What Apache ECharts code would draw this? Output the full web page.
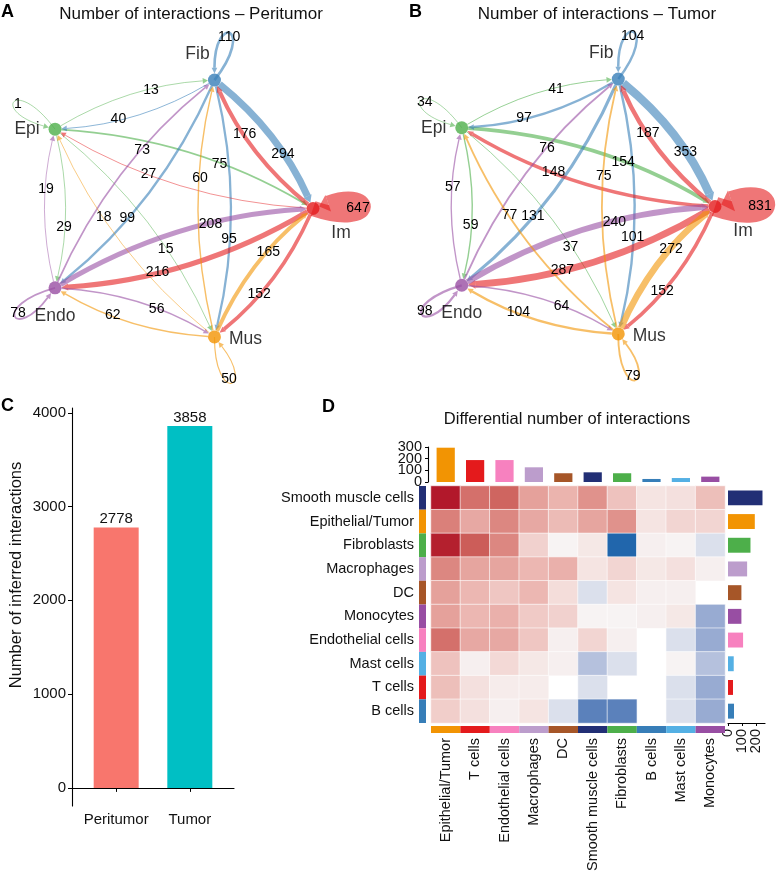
<!DOCTYPE html>
<html><head><meta charset="utf-8">
<script src="https://cdn.jsdelivr.net/npm/echarts@6/dist/echarts.min.js"></script>
<style>html,body{margin:0;padding:0;background:#fff}#c{width:778px;height:878px}</style>
</head><body><div id="c"></div>
<script>
// ================= DATA =================
// Panels A/B: nodes placed around a circle in this order
const netNodes = ['Im', 'Fib', 'Epi', 'Endo', 'Mus'];
// edges: [source, target, number of interactions]
const edgesPeritumor = [
  ['Epi','Epi',1],['Epi','Fib',13],['Epi','Im',75],['Epi','Endo',29],['Epi','Mus',15],
  ['Fib','Epi',40],['Fib','Fib',110],['Fib','Im',294],['Fib','Endo',99],['Fib','Mus',95],
  ['Im','Epi',27],['Im','Fib',176],['Im','Im',647],['Im','Endo',216],['Im','Mus',152],
  ['Endo','Epi',19],['Endo','Fib',73],['Endo','Im',208],['Endo','Endo',78],['Endo','Mus',56],
  ['Mus','Epi',18],['Mus','Fib',60],['Mus','Im',165],['Mus','Endo',62],['Mus','Mus',50]
];
const edgesTumor = [
  ['Epi','Epi',34],['Epi','Fib',41],['Epi','Im',154],['Epi','Endo',59],['Epi','Mus',37],
  ['Fib','Epi',97],['Fib','Fib',104],['Fib','Im',353],['Fib','Endo',131],['Fib','Mus',101],
  ['Im','Epi',148],['Im','Fib',187],['Im','Im',831],['Im','Endo',287],['Im','Mus',152],
  ['Endo','Epi',57],['Endo','Fib',76],['Endo','Im',240],['Endo','Endo',98],['Endo','Mus',64],
  ['Mus','Epi',77],['Mus','Fib',75],['Mus','Im',272],['Mus','Endo',104],['Mus','Mus',79]
];
// Panel C
const conditions = ['Peritumor', 'Tumor'];
const totalInteractions = [2778, 3858];
const yTicksC = [0, 1000, 2000, 3000, 4000];
// Panel D
const heatCols = ['Epithelial/Tumor','T cells','Endothelial cells','Macrophages','DC',
  'Smooth muscle cells','Fibroblasts','B cells','Mast cells','Monocytes'];
const heatRows = ['Smooth muscle cells','Epithelial/Tumor','Fibroblasts','Macrophages','DC',
  'Monocytes','Endothelial cells','Mast cells','T cells','B cells'];
const diffSMC   = [55, 36, 39, 23, 18, 27, 14, 5, 6, 15];
const diffEpi   = [32, 21, 30, 21, 16, 22, 27, 5, 9, 9];
const diffFib   = [54, 41, 30, 10, 1, 4, -20, 2, 1, -3];
const diffMacro = [30, 22, 22, 17, 19, 5, 9, 4, 6, 2];
const diffDC    = [23, 17, 13, 17, 7, -3, 5, 2, 2, 0];
const diffMono  = [23, 17, 19, 12, 10, 1, 1, 2, 4, -10];
const diffEndo  = [36, 21, 21, 13, 2, 9, 2, 0, -3, -10];
const diffMast  = [14, 2, 8, 4, 2, -7, -3, 0, 1, -7];
const diffT     = [15, 6, 3, 3, 0, -3, 0, 0, -3, -10];
const diffB     = [11, 6, 2, 5, -3, -16, -16, 0, -3, -10];
const colBars = [294, 188, 188, 126, 75, 83, 75, 26, 34, 46];
const rowBars = [247, 192, 161, 137, 96, 96, 108, 41, 36, 43];
const topTicks = [0, 100, 200, 300];
const rightTicks = [0, 100, 200];

// ================= STYLE =================
const FONT = '"Liberation Sans", Arial, Helvetica, sans-serif';
const nodeColor = {Im:'#E41A1C', Fib:'#377EB8', Epi:'#4DAF4A', Endo:'#984EA3', Mus:'#F29403'};
const nodeLabelOffset = {Im:[28,25], Fib:[-17,-26], Epi:[-28,0], Endo:[0,28], Mus:[31,2]};
const barColorsC = ['#F8766D', '#00BFC4'];
const typeColor = {'Epithelial/Tumor':'#F29403','T cells':'#E41A1C','Endothelial cells':'#F781BF',
  'Macrophages':'#BC9DCC','DC':'#A65628','Smooth muscle cells':'#222F75','Fibroblasts':'#4DAF4A',
  'B cells':'#377EB8','Mast cells':'#54B0E4','Monocytes':'#984EA3'};

function hexA(h, a) {
  const r = parseInt(h.slice(1,3),16), g = parseInt(h.slice(3,5),16), b = parseInt(h.slice(5,7),16);
  return 'rgba(' + r + ',' + g + ',' + b + ',' + a + ')';
}
// LAB interpolation for diverging palette (like colorRamp2)
function s2l(c){c/=255;return c<=0.04045?c/12.92:Math.pow((c+0.055)/1.055,2.4);}
function l2s(c){c=c<=0.0031308?12.92*c:1.055*Math.pow(c,1/2.4)-0.055;return Math.round(Math.max(0,Math.min(1,c))*255);}
function toLab(h){
  const r=s2l(parseInt(h.slice(1,3),16)), g=s2l(parseInt(h.slice(3,5),16)), b=s2l(parseInt(h.slice(5,7),16));
  const x=(r*0.4124+g*0.3576+b*0.1805)/0.95047, y=r*0.2126+g*0.7152+b*0.0722, z=(r*0.0193+g*0.1192+b*0.9505)/1.08883;
  const f=t=>t>0.008856?Math.cbrt(t):7.787*t+16/116;
  return [116*f(y)-16, 500*(f(x)-f(y)), 200*(f(y)-f(z))];
}
function fromLab(L,a,bb){
  const fy=(L+16)/116, fx=fy+a/500, fz=fy-bb/200;
  const fi=t=>t*t*t>0.008856?t*t*t:(t-16/116)/7.787;
  const x=fi(fx)*0.95047, y=fi(fy), z=fi(fz)*1.08883;
  const r=3.2406*x-1.5372*y-0.4986*z, g=-0.9689*x+1.8758*y+0.0415*z, b=0.0557*x-0.2040*y+1.0570*z;
  return 'rgb('+l2s(r)+','+l2s(g)+','+l2s(b)+')';
}
const heatMin = -20, heatMax = 55;
const labLo = toLab('#2166AC'), labMid = toLab('#F7F7F7'), labHi = toLab('#B2182B');
const heatRamp = [];
for (let v = heatMin; v <= heatMax; v++) {
  const A = v < 0 ? labLo : labHi;
  const f = v < 0 ? v / heatMin : v / heatMax;
  heatRamp.push(fromLab(labMid[0]+(A[0]-labMid[0])*f, labMid[1]+(A[1]-labMid[1])*f, labMid[2]+(A[2]-labMid[2])*f));
}

// circular layout helper: node i on unit circle
function nodeXY(i) { const a = i * 2 * Math.PI / netNodes.length; return [Math.cos(a), Math.sin(a)]; }

function edgeRenderer(params, api) {
  const s = api.value(0), t = api.value(1), w = api.value(2);
  const C = api.coord([0, 0]);
  const P = i => api.coord(nodeXY(i));
  const col = hexA(nodeColor[netNodes[s]], 0.6);
  const lw = Math.max(0.8, w / 42);
  const R = 6.5;
  const al = 5 + lw * 0.3, aw = Math.max(2.8, lw / 2 + 1);
  const unit = (a, b) => { const vx=b[0]-a[0], vy=b[1]-a[1], d=Math.hypot(vx,vy)||1; return [vx/d, vy/d]; };
  const out = [];
  let labelPt, tip, back;
  const p1 = P(s);
  if (s === t) {
    const u = unit(C, p1); const pp = [-u[1], u[0]];
    const a = 64, b = 22;
    const c1 = [p1[0]+a*u[0]+b*pp[0], p1[1]+a*u[1]+b*pp[1]];
    const c2 = [p1[0]+a*u[0]-b*pp[0], p1[1]+a*u[1]-b*pp[1]];
    back = unit(p1, c2);
    tip = [p1[0]+back[0]*R, p1[1]+back[1]*R];
    const base = [tip[0]+back[0]*al, tip[1]+back[1]*al];
    out.push({type:'bezierCurve', shape:{x1:p1[0],y1:p1[1],cpx1:c1[0],cpy1:c1[1],cpx2:c2[0],cpy2:c2[1],x2:base[0],y2:base[1]},
      style:{stroke:col, lineWidth:lw, fill:'none'}});
    labelPt = [p1[0]+u[0]*45, p1[1]+u[1]*45];
  } else {
    const p2 = P(t);
    const L = Math.hypot(p2[0]-p1[0], p2[1]-p1[1]);
    const u = unit(p1, p2); const left = [u[1], -u[0]];
    const k = 0.12 * L;
    const cp = [(p1[0]+p2[0])/2 + left[0]*k, (p1[1]+p2[1])/2 + left[1]*k];
    const d1 = unit(p1, cp); back = unit(p2, cp);
    const start = [p1[0]+d1[0]*R, p1[1]+d1[1]*R];
    tip = [p2[0]+back[0]*R, p2[1]+back[1]*R];
    const base = [tip[0]+back[0]*al, tip[1]+back[1]*al];
    out.push({type:'bezierCurve', shape:{x1:start[0],y1:start[1],cpx1:cp[0],cpy1:cp[1],x2:base[0],y2:base[1]},
      style:{stroke:col, lineWidth:lw, fill:'none'}});
    const tt = 0.62;
    labelPt = [(1-tt)*(1-tt)*p1[0]+2*tt*(1-tt)*cp[0]+tt*tt*p2[0], (1-tt)*(1-tt)*p1[1]+2*tt*(1-tt)*cp[1]+tt*tt*p2[1]];
  }
  const base = [tip[0]+back[0]*al, tip[1]+back[1]*al];
  const pr = [-back[1], back[0]];
  out.push({type:'polygon', shape:{points:[tip, [base[0]+pr[0]*aw, base[1]+pr[1]*aw], [base[0]-pr[0]*aw, base[1]-pr[1]*aw]]},
    style:{fill:col}});
  out.push({type:'text', x:labelPt[0], y:labelPt[1], z2:100,
    style:{text:String(w), fill:'#000', fontSize:14, fontFamily:FONT, align:'center', verticalAlign:'middle'}});
  return {type:'group', children: out};
}

function edgeData(edges) {
  return edges.map(e => [netNodes.indexOf(e[0]), netNodes.indexOf(e[1]), e[2]]);
}
function nodeData() {
  return netNodes.map((n, i) => ({
    name: n, value: nodeXY(i), itemStyle: {color: nodeColor[n]},
    label: {offset: nodeLabelOffset[n]}
  }));
}

const netGrids = [
  {left: 27.8, top: 73.5, width: 285.2, height: 270},
  {left: 435, top: 72.5, width: 280, height: 268}
];

const heatData = [];
const diffRows = [diffSMC, diffEpi, diffFib, diffMacro, diffDC, diffMono, diffEndo, diffMast, diffT, diffB];
diffRows.forEach((row, r) => row.forEach((v, c) => heatData.push([c, r, v === 0 ? '-' : v])));

const hiddenValue = (min, max, idx) => ({type:'value', gridIndex: idx, min, max, show: false});
const blackLine = {lineStyle: {color: '#000', width: 1.1}};
const plain = v => String(v);

const baseGraphics = [
  {type:'text', left:1, top:3, style:{text:'A', fontSize:18, fontWeight:'bold', fill:'#000', fontFamily:FONT}},
  {type:'text', x:191, y:14, style:{text:'Number of interactions – Peritumor', fontSize:17, fill:'#111', fontFamily:FONT, align:'center', verticalAlign:'middle'}},
  {type:'text', left:409, top:3, style:{text:'B', fontSize:18, fontWeight:'bold', fill:'#000', fontFamily:FONT}},
  {type:'text', x:597, y:14, style:{text:'Number of interactions – Tumor', fontSize:17, fill:'#111', fontFamily:FONT, align:'center', verticalAlign:'middle'}},
  {type:'text', left:1, top:397, style:{text:'C', fontSize:18, fontWeight:'bold', fill:'#000', fontFamily:FONT}},
  {type:'text', left:322, top:398, style:{text:'D', fontSize:18, fontWeight:'bold', fill:'#000', fontFamily:FONT}},
  {type:'text', x:567, y:419, style:{text:'Differential number of interactions', fontSize:16.5, fill:'#111', fontFamily:FONT, align:'center', verticalAlign:'middle'}},
  {type:'text', x:16, y:575, rotation: Math.PI / 2, style:{text:'Number of inferred interactions', fontSize:16.5, fill:'#111', fontFamily:FONT, align:'center', verticalAlign:'middle'}}
];

const option = {
  animation: false,
  backgroundColor: '#fff',
  textStyle: {fontFamily: FONT},
  grid: [
    netGrids[0], netGrids[1],
    {left: 72, top: 408, width: 162, height: 398},
    {left: 431, top: 486, width: 294, height: 237},
    {left: 431, top: 447, width: 294, height: 35},
    {left: 728, top: 486, width: 37, height: 237},
    {left: 419, top: 486, width: 7, height: 237},
    {left: 431, top: 726, width: 294, height: 7}
  ],
  xAxis: [
    hiddenValue(-1, 1, 0),
    hiddenValue(-1, 1, 1),
    {type:'value', gridIndex:2, min:0.4, max:2.6, splitLine:{show:false},
      axisLine:{show:true, ...blackLine}, 
      axisTick:{show:true, customValues:[1,2], length:4, lineStyle:{color:'#000'}},
      axisLabel:{customValues:[1,2], formatter: v => conditions[Math.round(v)-1] || '', fontSize:15, color:'#111', margin:6}},
    {type:'category', gridIndex:3, data: heatCols, show:false},
    {type:'category', gridIndex:4, data: heatCols, show:false},
    {type:'value', gridIndex:5, min:0, max:265, position:'bottom', splitLine:{show:false},
      axisLine:{show:true, ...blackLine},
      axisTick:{show:true, customValues: rightTicks, length:3, lineStyle:{color:'#000'}},
      axisLabel:{show:false}},
    {type:'value', gridIndex:6, min:0, max:1, show:false},
    {type:'category', gridIndex:7, data: heatCols, axisLine:{show:false}, axisTick:{show:false},
      axisLabel:{rotate:90, fontSize:14.5, color:'#111', margin:5, interval:0}}
  ],
  yAxis: [
    hiddenValue(-1, 1, 0),
    hiddenValue(-1, 1, 1),
    {type:'value', gridIndex:2, min:-193, max:4051, splitLine:{show:false},
      axisLine:{show:true, ...blackLine},
      axisTick:{show:true, customValues: yTicksC, length:4, lineStyle:{color:'#000'}},
      axisLabel:{customValues: yTicksC, fontSize:15, color:'#111', margin:6, formatter: plain}},
    {type:'category', gridIndex:3, data: heatRows, inverse:true, show:false},
    {type:'value', gridIndex:4, min:0, max:300, offset:3, splitLine:{show:false},
      axisLine:{show:true, ...blackLine},
      axisTick:{show:true, customValues: topTicks, length:3, lineStyle:{color:'#000'}},
      axisLabel:{show:false}},
    {type:'category', gridIndex:5, data: heatRows, inverse:true, show:false},
    {type:'category', gridIndex:6, data: heatRows, inverse:true, axisLine:{show:false}, axisTick:{show:false},
      axisLabel:{fontSize:14.5, color:'#111', margin:5, interval:0}},
    {type:'value', gridIndex:7, min:0, max:1, show:false}
  ],
  visualMap: [{type:'continuous', show:false, seriesIndex:5, min:heatMin, max:heatMax, inRange:{color: heatRamp}}],
  series: [
    {type:'custom', xAxisIndex:0, yAxisIndex:0, renderItem: edgeRenderer, clip:false, z:2,
      data: edgeData(edgesPeritumor)},
    {type:'scatter', xAxisIndex:0, yAxisIndex:0, symbolSize:13, z:5, data: nodeData(),
      label:{show:true, position:'inside', formatter:'{b}', fontSize:17.5, color:'#000', fontFamily:FONT}},
    {type:'custom', xAxisIndex:1, yAxisIndex:1, renderItem: edgeRenderer, clip:false, z:2,
      data: edgeData(edgesTumor)},
    {type:'scatter', xAxisIndex:1, yAxisIndex:1, symbolSize:13, z:5, data: nodeData(),
      label:{show:true, position:'inside', formatter:'{b}', fontSize:17.5, color:'#000', fontFamily:FONT}},
    {type:'bar', xAxisIndex:2, yAxisIndex:2, barWidth:45,
      data: totalInteractions.map((v, i) => ({value:[i + 1, v], itemStyle:{color: barColorsC[i]}})),
      label:{show:true, position:'top', distance:1, fontSize:15, color:'#111', formatter: p => p.value[1]}},
    {type:'heatmap', xAxisIndex:3, yAxisIndex:3, data: heatData,
      itemStyle:{borderColor:'#fff', borderWidth:0.6}},
    {type:'bar', xAxisIndex:4, yAxisIndex:4, barWidth:'62%',
      data: colBars.map((v, i) => ({value:v, itemStyle:{color: typeColor[heatCols[i]]}}))},
    {type:'bar', xAxisIndex:5, yAxisIndex:5, barWidth:'63%',
      data: rowBars.map((v, i) => ({value:v, itemStyle:{color: typeColor[heatRows[i]]}}))},
    {type:'bar', xAxisIndex:6, yAxisIndex:6, barWidth:'100%',
      data: heatRows.map(n => ({value:1, itemStyle:{color: typeColor[n]}}))},
    {type:'bar', xAxisIndex:7, yAxisIndex:7, barWidth:'100%',
      data: heatCols.map(n => ({value:1, itemStyle:{color: typeColor[n]}}))}
  ],
  graphic: baseGraphics
};

const chart = echarts.init(document.getElementById('c'), null, {renderer:'canvas'});
chart.setOption(option);

// Tick labels of the two annotation axes (crowded, so drawn without overlap-hiding),
// positioned through the axes' own scales.
const extra = [];
const topAxisX = 431 - 3 - 6;
topTicks.forEach(v => {
  const y = chart.convertToPixel({yAxisIndex: 4}, v);
  extra.push({type:'text', x: topAxisX, y: y, style:{text:String(v), fontSize:14.5, fill:'#111', fontFamily:FONT, align:'right', verticalAlign:'middle'}});
});
const rightAxisY = 486 + 237 + 6;
rightTicks.forEach(v => {
  const x = chart.convertToPixel({xAxisIndex: 5}, v);
  extra.push({type:'text', x: x, y: rightAxisY, rotation: Math.PI / 2, style:{text:String(v), fontSize:14.5, fill:'#111', fontFamily:FONT, align:'right', verticalAlign:'middle'}});
});
chart.setOption({graphic: baseGraphics.concat(extra)});
</script>
</body></html>
